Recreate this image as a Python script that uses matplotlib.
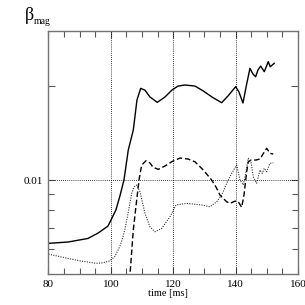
import matplotlib
matplotlib.use("Agg")
import matplotlib.pyplot as plt
from matplotlib.ticker import FixedLocator, NullFormatter, MultipleLocator, FixedFormatter

plt.rcParams["font.family"] = "Liberation Serif"

# solid curve
t_solid = [80.0, 86.25, 92.66, 95.87, 99.07, 100.04, 101.6, 102.9, 104.2, 105.58,
           107.19, 108.37, 109.56, 110.94, 112.54, 114.88, 117.35, 119.6, 121.52, 123.76,
           126.97, 129.54, 132.42, 135.53, 137.55, 140.02, 141.08, 142.36, 143.48, 144.6,
           145.56, 146.43, 147.17, 148.03, 149.19, 150.47, 151.11, 152.4]
b_solid = [0.00627, 0.00633, 0.0065, 0.00676, 0.00712, 0.00745, 0.00801, 0.00889, 0.0100, 0.01248,
           0.01446, 0.01805, 0.01967, 0.0194, 0.01845, 0.01774, 0.01845, 0.01943, 0.0200, 0.02016,
           0.0200, 0.01932, 0.01845, 0.01769, 0.01859, 0.01991, 0.01914, 0.01765, 0.02016, 0.0228,
           0.02186, 0.02143, 0.02252, 0.02318, 0.02224, 0.02394, 0.02307, 0.02366]

# dashed curve
t_dash = [105.8, 107.19, 108.28, 109.11, 109.88, 111.26, 112.54, 113.5, 115.2, 117.35,
          119.6, 122.16, 124.73, 126.97, 129.63, 132.32, 133.7, 134.99, 137.13, 138.19,
          139.8, 140.85, 141.94, 142.68, 143.55, 144.06, 144.93, 146.53, 147.81, 148.77,
          149.96, 151.02, 152.07]
b_dash = [0.0045, 0.00691, 0.00863, 0.01013, 0.01117, 0.01153, 0.01134, 0.0110, 0.01082, 0.01109,
          0.01146, 0.01176, 0.01168, 0.01144, 0.01077, 0.0100, 0.0095, 0.00895, 0.00852, 0.00842,
          0.00856, 0.00852, 0.00818, 0.00895, 0.01063, 0.01144, 0.01159, 0.01159, 0.01168, 0.01211,
          0.01264, 0.01218, 0.01211]

# dotted curve
t_dot = [80.0, 86.25, 90.52, 95.33, 97.47, 99.62, 101.22, 102.83, 103.57, 104.43,
         105.26, 106.68, 107.41, 108.28, 109.34, 110.94, 112.54, 114.15, 116.29, 118.96,
         120.88, 124.31, 129.12, 131.78, 133.93, 135.53, 137.13, 138.74, 140.34, 141.4,
         142.46, 143.23, 144.06, 144.93, 145.66, 146.75, 147.81, 148.55, 149.19, 149.96,
         151.02, 152.07]
b_dot = [0.00579, 0.00561, 0.0055, 0.00541, 0.00543, 0.00551, 0.00568, 0.00611, 0.00642, 0.00691,
         0.00758, 0.00906, 0.0095, 0.00964, 0.00917, 0.00782, 0.00708, 0.00683, 0.0070, 0.00763,
         0.00832, 0.00842, 0.00832, 0.00821, 0.00852, 0.00895, 0.00976, 0.01051, 0.01117, 0.0100,
         0.00964, 0.01051, 0.01174, 0.01144, 0.01025, 0.00976, 0.01077, 0.01051, 0.0109, 0.01063,
         0.01131, 0.01136]

x_grid = [100, 120, 140]
y_grid = [0.01]
x_ticks = [80, 100, 120, 140, 160]
x_labels = ["80", "100", "120", "140", "160"]
y_major = [0.01, 0.02]
y_labels = ["0.01", ""]
y_minor = [0.006, 0.007, 0.008, 0.009]

fig = plt.figure(figsize=(3.05, 3.05), dpi=100)
ax = fig.add_axes([0.159, 0.1016, 0.818, 0.7964])

ax.plot(t_solid, b_solid, color="k", lw=1.0)
ax.plot(t_dash, b_dash, color="k", lw=1.0, ls=(0, (4, 2)))
ax.plot(t_dot, b_dot, color="0.2", lw=0.8, ls=(0, (1, 1.2)))

for xv in x_grid:
    ax.axvline(xv, color="k", lw=0.6, ls=(0, (1, 1.5)))
for yv in y_grid:
    ax.axhline(yv, color="k", lw=0.6, ls=(0, (1, 1.5)))

ax.set_yscale("log")
ax.set_xlim(80, 160)
ax.set_ylim(0.005, 0.03)

ax.xaxis.set_major_locator(FixedLocator(x_ticks))
ax.xaxis.set_major_formatter(FixedFormatter(x_labels))
ax.xaxis.set_minor_locator(MultipleLocator(5))
ax.yaxis.set_major_locator(FixedLocator(y_major))
ax.yaxis.set_major_formatter(FixedFormatter(y_labels))
ax.yaxis.set_minor_locator(FixedLocator(y_minor))
ax.yaxis.set_minor_formatter(NullFormatter())

ax.tick_params(which="both", direction="in", top=True, right=True,
               labelsize=8, color="0.35", pad=4)
ax.tick_params(which="major", length=5, width=0.8)
ax.tick_params(which="minor", length=4, width=0.8)
for sp in ax.spines.values():
    sp.set_color("0.45")
    sp.set_linewidth(1.0)

ax.set_xlabel("time [ms]", fontsize=7.5, labelpad=2)
ax.xaxis.set_label_coords(0.48, -0.06)

fig.text(0.082, 0.95, "β", fontsize=13, ha="left", va="center")
fig.text(0.112, 0.928, "mag", fontsize=7, ha="left", va="center")

fig.savefig("out.png", dpi=100)
